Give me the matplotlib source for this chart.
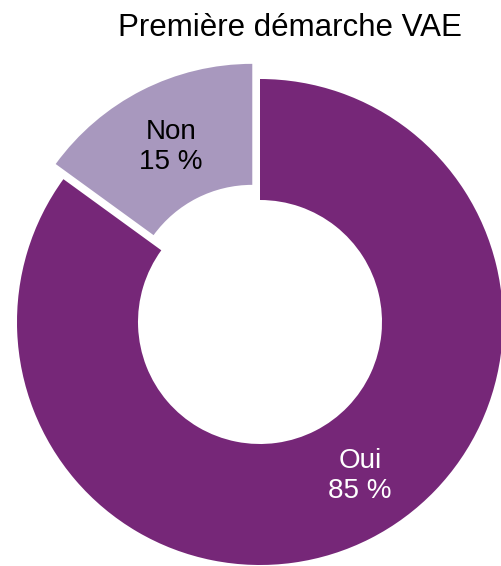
import matplotlib
matplotlib.use("Agg")
import matplotlib.pyplot as plt
import numpy as np

labels = ["Oui", "Non"]
values = [85, 15]
colors = ["#762778", "#a898be"]
text_colors = ["white", "black"]
title = "Première démarche VAE"

plt.rcParams['font.family'] = ['Liberation Sans', 'DejaVu Sans']

W, H = 501, 566
fig = plt.figure(figsize=(W / 100, H / 100), dpi=100)
ax = fig.add_axes([0, 0, 1, 1])

radius = 243
wedges, texts = ax.pie(
    values,
    labels=[f"{l}\n{v} %" for l, v in zip(labels, values)],
    colors=colors,
    startangle=90,
    counterclock=False,
    explode=[0, 17],
    radius=radius,
    center=(260, H - 322),
    labeldistance=0.74,
    wedgeprops=dict(width=121, linewidth=0),
    textprops=dict(fontsize=20, ha='center', va='center', linespacing=1.2),
    frame=True,
)
for t, c in zip(texts, text_colors):
    t.set_color(c)

# the Oui label sits a bit further round than the slice midpoint
cx, cy = wedges[0].center
ang = np.deg2rad(-57)
texts[0].set_position((cx + 0.755 * radius * np.cos(ang), cy + 0.755 * radius * np.sin(ang)))

ax.set_xlim(0, W)
ax.set_ylim(0, H)
ax.set_aspect('equal')
ax.axis('off')

ax.text(290, H - 28, title, fontsize=22.5, ha='center', va='center')

fig.savefig("out.png", dpi=100)
